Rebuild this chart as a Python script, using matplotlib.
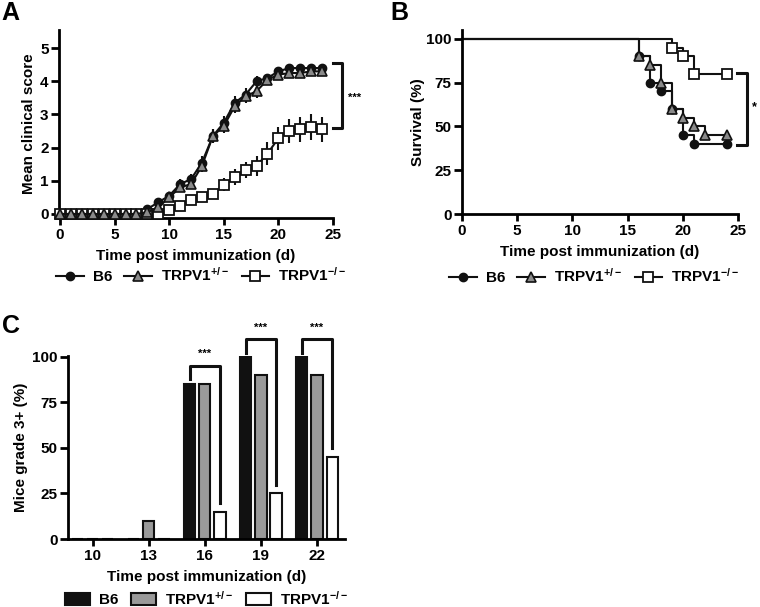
import matplotlib.pyplot as plt
from matplotlib.lines import Line2D
import numpy as np

plt.rcParams['font.family'] = ['Liberation Sans', 'DejaVu Sans']
plt.rcParams['font.weight'] = 'bold'
plt.rcParams['axes.labelweight'] = 'bold'
plt.rcParams['mathtext.fontset'] = 'custom'
plt.rcParams['mathtext.rm'] = 'Liberation Sans:bold'
plt.rcParams['mathtext.bf'] = 'Liberation Sans:bold'
plt.rcParams['mathtext.default'] = 'bf'

# Panel A: mean clinical score
days = [0, 1, 2, 3, 4, 5, 6, 7, 8, 9, 10, 11, 12, 13, 14, 15, 16, 17, 18, 19, 20, 21, 22, 23, 24]
score_b6 = [0, 0, 0, 0, 0, 0, 0, 0, 0.15, 0.35, 0.55, 0.9, 1.05, 1.55, 2.35, 2.75, 3.35, 3.6, 4.0, 4.1, 4.3, 4.4, 4.4, 4.4, 4.4]
err_b6 = [0, 0, 0, 0, 0, 0, 0, 0, 0.08, 0.1, 0.12, 0.15, 0.15, 0.2, 0.2, 0.2, 0.2, 0.2, 0.15, 0.12, 0.12, 0.12, 0.12, 0.12, 0.12]
score_het = [0, 0, 0, 0, 0, 0, 0, 0, 0.05, 0.2, 0.5, 0.8, 0.9, 1.45, 2.35, 2.65, 3.25, 3.55, 3.7, 4.05, 4.2, 4.25, 4.25, 4.3, 4.3]
err_het = [0, 0, 0, 0, 0, 0, 0, 0, 0.05, 0.1, 0.12, 0.15, 0.15, 0.2, 0.2, 0.2, 0.2, 0.2, 0.2, 0.15, 0.15, 0.15, 0.15, 0.12, 0.12]
score_ko = [0, 0, 0, 0, 0, 0, 0, 0, 0, 0, 0.12, 0.25, 0.42, 0.5, 0.6, 0.88, 1.12, 1.32, 1.45, 1.82, 2.28, 2.5, 2.55, 2.62, 2.55]
err_ko = [0, 0, 0, 0, 0, 0, 0, 0, 0, 0.05, 0.1, 0.12, 0.15, 0.15, 0.15, 0.2, 0.25, 0.25, 0.3, 0.35, 0.35, 0.35, 0.38, 0.38, 0.38]

# Panel B: survival (%)
surv_t_b6 = [0, 16, 17, 18, 19, 20, 21, 24]
surv_b6 = [100, 90, 75, 70, 60, 45, 40, 40]
surv_t_het = [0, 16, 17, 18, 19, 20, 21, 22, 24]
surv_het = [100, 90, 85, 75, 60, 55, 50, 45, 45]
surv_t_ko = [0, 19, 20, 21, 24]
surv_ko = [100, 95, 90, 80, 80]

# Panel C: mice grade 3+ (%)
grade_days = ['10', '13', '16', '19', '22']
grade_b6 = [0, 0, 85, 100, 100]
grade_het = [0, 10, 85, 90, 90]
grade_ko = [0, 0, 15, 25, 45]

lab_het = 'TRPV1$^{+/-}$'
lab_ko = 'TRPV1$^{-/-}$'
gray_m = '#8a8a8a'
gray_b = '#9a9a9a'
blk = '#111111'

mk_b6 = dict(marker='o', ms=6, mfc=blk, mec=blk)
mk_het = dict(marker='^', ms=6.5, mfc=gray_m, mec=blk, mew=1.2)
mk_ko = dict(marker='s', ms=7, mfc='white', mec=blk, mew=1.3)


def style(ax):
    for s in ['top', 'right']:
        ax.spines[s].set_visible(False)
    for s in ['left', 'bottom']:
        ax.spines[s].set_linewidth(2)
    ax.tick_params(direction='out', length=5, width=2, labelsize=11)
    ax.tick_params(axis='y', length=6, pad=1.5)
    ax.tick_params(axis='x', pad=2.5)
    for lb in ax.get_xticklabels() + ax.get_yticklabels():
        lb.set_fontweight('bold')


def line_handles():
    return [Line2D([], [], color=blk, lw=1.5, **mk_b6),
            Line2D([], [], color=blk, lw=1.5, **mk_het),
            Line2D([], [], color=blk, lw=1.5, **mk_ko)]


fig = plt.figure(figsize=(7.6, 6.07), dpi=100)
axA = fig.add_axes([0.0776, 0.641, 0.3605, 0.3097])
axB = fig.add_axes([0.6079, 0.6474, 0.3632, 0.3031])
axC = fig.add_axes([0.0895, 0.112, 0.3645, 0.3015])

# ---- A ----
axA.errorbar(days, score_b6, yerr=err_b6, color=blk, lw=1.5,
             elinewidth=1.5, capsize=0, clip_on=False, zorder=3, **mk_b6)
axA.errorbar(days, score_het, yerr=err_het, color=blk, lw=1.5,
             elinewidth=1.5, capsize=0, clip_on=False, zorder=4, **mk_het)
axA.errorbar(days, score_ko, yerr=err_ko, color=blk, lw=1.5,
             elinewidth=1.5, capsize=0, clip_on=False, zorder=3, **mk_ko)
axA.set_xlim(-0.1, 25)
axA.set_ylim(-0.12, 5.55)
axA.set_xticks([0, 5, 10, 15, 20, 25])
axA.set_yticks([0, 1, 2, 3, 4, 5])
axA.set_xlabel('Time post immunization (d)', fontsize=11, labelpad=5)
axA.set_ylabel('Mean clinical score', fontsize=11, labelpad=3)
style(axA)
axA.plot([24.97, 25.8, 25.8, 24.97], [4.55, 4.55, 2.59, 2.59], color=blk, lw=2.2, clip_on=False)
axA.text(27.0, 3.5, '***', ha='center', va='center', fontsize=8)
axA.legend(line_handles(), ['B6', lab_het, lab_ko], loc='center', bbox_to_anchor=(0.52, -0.305),
           ncol=3, frameon=False, fontsize=11, handlelength=1.8, columnspacing=0.8, handletextpad=0.6)
fig.text(0.002, 0.998, 'A', fontsize=18, fontweight='bold', va='top')

# ---- B ----
axB.step(surv_t_b6, surv_b6, where='post', color=blk, lw=1.5, clip_on=False)
axB.plot(surv_t_b6[1:], surv_b6[1:], ls='none', clip_on=False, zorder=3, **mk_b6)
axB.step(surv_t_het, surv_het, where='post', color=blk, lw=1.5, clip_on=False)
axB.plot(surv_t_het[1:], surv_het[1:], ls='none', clip_on=False, zorder=4, **mk_het)
axB.step(surv_t_ko, surv_ko, where='post', color=blk, lw=1.5, clip_on=False)
axB.plot(surv_t_ko[1:], surv_ko[1:], ls='none', clip_on=False, zorder=3, **mk_ko)
axB.set_xlim(0, 25)
axB.set_ylim(0, 105)
axB.set_xticks([0, 5, 10, 15, 20, 25])
axB.set_yticks([0, 25, 50, 75, 100])
axB.set_xlabel('Time post immunization (d)', fontsize=11, labelpad=5)
axB.set_ylabel('Survival (%)', fontsize=11, labelpad=1)
style(axB)
axB.plot([24.9, 25.8, 25.8, 24.9], [80.7, 80.7, 39.4, 39.4], color=blk, lw=2.2, clip_on=False)
axB.text(26.5, 61, '*', ha='center', va='center', fontsize=9)
axB.legend(line_handles(), ['B6', lab_het, lab_ko], loc='center', bbox_to_anchor=(0.48, -0.337),
           ncol=3, frameon=False, fontsize=11, handlelength=1.8, columnspacing=0.8, handletextpad=0.6)
fig.text(0.514, 0.998, 'B', fontsize=18, fontweight='bold', va='top')

# ---- C ----
x = np.arange(len(grade_days))
w = 0.2
off = 0.27
axC.bar(x - off, grade_b6, w, color=blk, edgecolor=blk, lw=1.5, label='B6')
axC.bar(x, grade_het, w, color=gray_b, edgecolor=blk, lw=1.5, label=lab_het)
axC.bar(x + off, grade_ko, w, color='white', edgecolor=blk, lw=1.5, label=lab_ko)
axC.set_xlim(-0.44, 4.5)
axC.set_ylim(0, 100.5)
axC.set_xticks(x)
axC.set_xticklabels(grade_days)
axC.set_yticks([0, 25, 50, 75, 100])
axC.set_xlabel('Time post immunization (d)', fontsize=11, labelpad=5)
axC.set_ylabel('Mice grade 3+ (%)', fontsize=11, labelpad=3)
style(axC)
brackets = [(2, 88, 95, 19.7, 101.5), (3, 102, 110, 29.5, 116), (4, 102, 110, 50, 116)]
for i, ylo, ytop, yr, ys in brackets:
    axC.plot([i - off, i - off, i + off, i + off], [ylo, ytop, ytop, yr], color=blk, lw=2.2, clip_on=False)
    axC.text(i, ys, '***', ha='center', va='center', fontsize=8)
axC.legend(loc='center', bbox_to_anchor=(0.5, -0.325), ncol=3, frameon=False,
           fontsize=11, handlelength=1.65, handleheight=0.8, columnspacing=0.8, handletextpad=0.6,
           borderpad=0.1)
fig.text(0.002, 0.482, 'C', fontsize=18, fontweight='bold', va='top')

fig.savefig('out.png', dpi=100)
